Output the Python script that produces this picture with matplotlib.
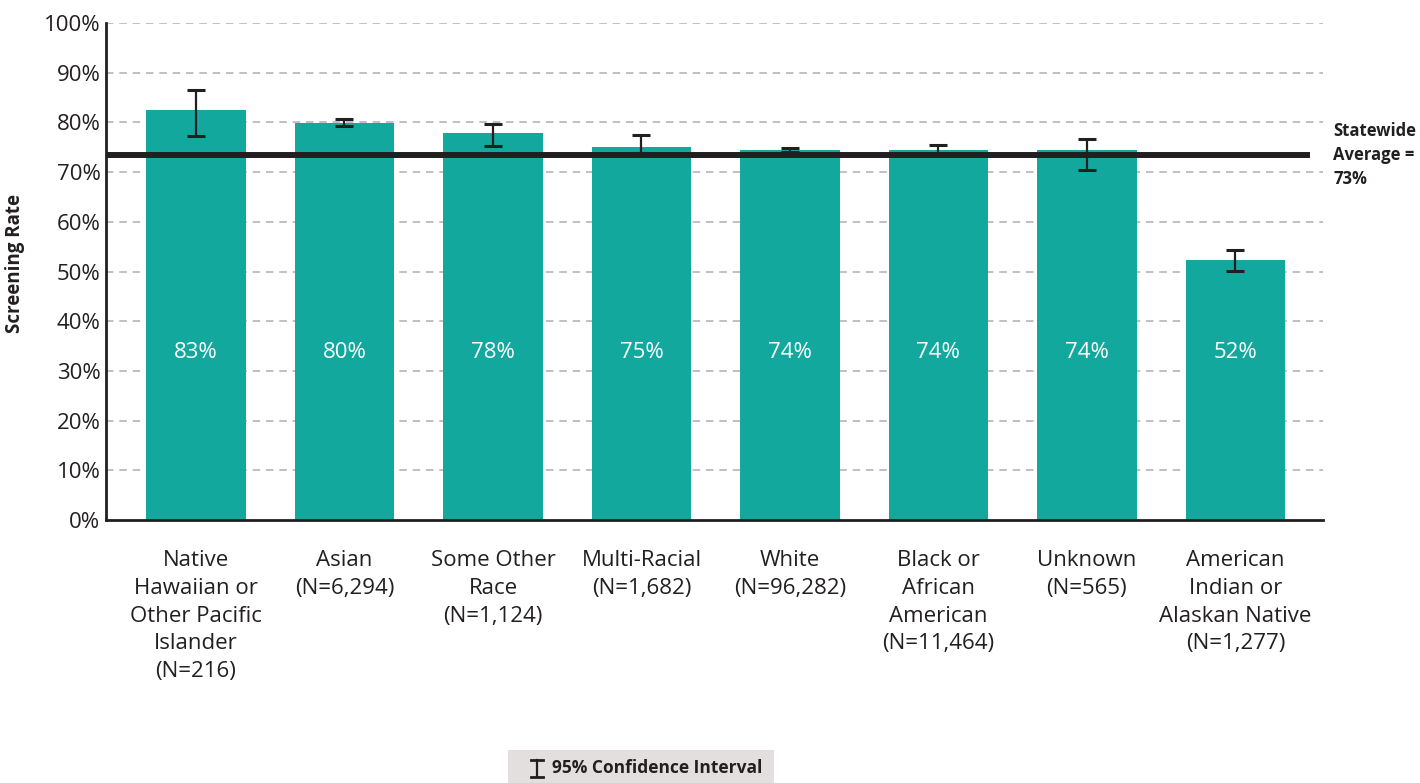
import matplotlib
matplotlib.use("Agg")
import matplotlib.pyplot as plt
from matplotlib.patches import Rectangle
from matplotlib.lines import Line2D
import numpy as np

plt.rcParams['font.family'] = ['Open Sans', 'DejaVu Sans']

categories = ["Native\nHawaiian or\nOther Pacific\nIslander\n(N=216)",
              "Asian\n(N=6,294)",
              "Some Other\nRace\n(N=1,124)",
              "Multi-Racial\n(N=1,682)",
              "White\n(N=96,282)",
              "Black or\nAfrican\nAmerican\n(N=11,464)",
              "Unknown\n(N=565)",
              "American\nIndian or\nAlaskan Native\n(N=1,277)"]
rates = [82.5, 79.9, 77.9, 75.0, 74.4, 74.4, 74.4, 52.3]
labels = ["83%", "80%", "78%", "75%", "74%", "74%", "74%", "52%"]
ci_low = [77.3, 79.2, 75.2, 73.9, 74.1, 73.7, 70.4, 50.2]
ci_high = [86.5, 80.6, 79.6, 77.4, 74.9, 75.4, 76.6, 54.3]
statewide = 73.4
yticks = [0, 10, 20, 30, 40, 50, 60, 70, 80, 90, 100]

W, H = 1420, 783
fig = plt.figure(figsize=(W / 100, H / 100), dpi=100)
ax = fig.add_axes([106 / W, 1 - 520 / H, (1323 - 106) / W, (520 - 23) / H])

x = np.arange(len(categories))
teal = "#13a89e"
dark = "#231f20"
ax.bar(x, rates, width=0.67, color=teal, zorder=2)
ax.set_xlim(-0.606, 7.59)
ax.set_ylim(0, 100)

for v in yticks[1:]:
    ax.axhline(v, color="#b5b5b5", lw=1.2, ls=(0, (4.5, 3.5)), zorder=1)

err_lo = np.array(rates) - np.array(ci_low)
err_hi = np.array(ci_high) - np.array(rates)
ax.errorbar(x, rates, yerr=[err_lo, err_hi], fmt="none", ecolor=dark,
            elinewidth=1.6, capsize=6.5, capthick=2.2, zorder=4)

ax.axhline(statewide, xmin=0, xmax=0.987, color=dark, lw=4.3, zorder=3)

for xi, lab in zip(x, labels):
    ax.text(xi, 33.8, lab, ha="center", va="center", color="white", fontsize=16, zorder=5)

for xi, cat in zip(x, categories):
    ax.text(xi, -6.0, cat, ha="center", va="top", color=dark, fontsize=16,
            linespacing=1.43, transform=ax.transData)

ax.set_yticks(yticks)
ax.set_yticklabels([f"{v}%" for v in yticks], fontsize=16, color=dark)
ax.set_xticks([])
ax.tick_params(axis="y", length=0, pad=4)
for s in ["top", "right"]:
    ax.spines[s].set_visible(False)
for s in ["left", "bottom"]:
    ax.spines[s].set_color(dark)
    ax.spines[s].set_linewidth(2)
ax.spines["bottom"].set_zorder(6)

ax.set_ylabel("Screening Rate", fontsize=13.5, fontweight="bold", color=dark)
ax.yaxis.set_label_coords(-0.0665, 0.517)

fig.text(1333 / W, 1 - 155 / H, "Statewide\nAverage =\n73%", ha="left", va="center",
         fontsize=12, fontweight="bold", color=dark, linespacing=1.4)

# Legend box
fig.patches.append(Rectangle((508 / W, 0), (774 - 508) / W, (783 - 750) / H,
                             transform=fig.transFigure, facecolor="#e3dfdf",
                             edgecolor="none", zorder=0))
cx, ytop, ybot = 537, 760, 777
fig.add_artist(Line2D([cx / W, cx / W], [1 - ytop / H, 1 - ybot / H], color=dark, lw=1.6,
                      transform=fig.transFigure))
for yy in (ytop, ybot):
    fig.add_artist(Line2D([(cx - 6) / W, (cx + 6) / W], [1 - yy / H, 1 - yy / H], color=dark,
                          lw=2.0, transform=fig.transFigure))
fig.text(552 / W, 1 - 768 / H, "95% Confidence Interval", ha="left", va="center",
         fontsize=12.5, fontweight="bold", color=dark)

fig.savefig("out.png", dpi=100)
